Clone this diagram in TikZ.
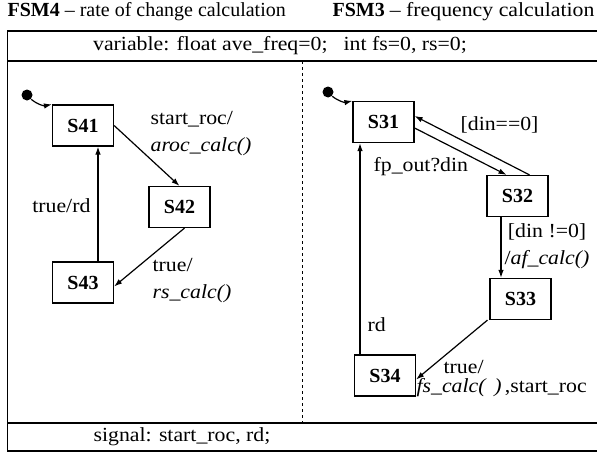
\documentclass[tikz,border=0pt]{standalone}
\usepackage{fontspec}
\setmainfont{Liberation Serif}
\newfontfamily\lblfont[Ligatures=TeX, FakeStretch=1.09]{Liberation Serif}
\usetikzlibrary{arrows.meta}
\begin{document}
\begin{tikzpicture}[x=1pt, y=-1pt, line width=1.2pt, inner sep=1pt,
		font=\fontsize{20}{27}\selectfont\lblfont,
		state/.style={draw, minimum width=61pt, minimum height=41pt, inner sep=0pt, font=\fontsize{20}{27}\selectfont\rmfamily\bfseries},
		title/.style={anchor=west, font=\fontsize{20}{27}\selectfont\rmfamily},
		init/.style={circle, fill, inner sep=0pt, minimum size=11pt},
		>={Latex[length=8pt, width=5.5pt]}]
		\useasboundingbox(0, 0)rectangle(597, 452);
		\node[title](t4)at(6, 12){\textbf{FSM4} -- rate of change calculation};
		\node[title](t3)at(331, 12){\textbf{FSM3} \lblfont-- frequency calculation};
		\draw(7.5, 31)rectangle(610, 451);
		\draw(7.5, 61)--(610, 61);
		\draw(7.5, 423)--(610, 423);
		\draw[line width=1pt, dashed](302, 61)--(302, 423);
		\node(var)at(280, 46){variable: float ave\_freq=0;\hspace{0.8em}int fs=0, rs=0;};
		\node(sig)at(182, 437){signal: start\_roc, rd;};
		\node[state](S41)at(83, 125.5){S41};
		\node[state](S42)at(179.5, 207){S42};
		\node[state](S43)at(83, 282.5){S43};
		\node[init](i4)at(27, 95){};
		\draw[->](i4)to[bend right=25](S41.north west);
		\draw[->](S41.east)--(S42.north);
		\draw[->]([xshift=5pt]S42.south)--([yshift=-4pt]S43.east);
		\draw[->]([xshift=15pt]S43.north)--([xshift=15pt]S41.south);
		\node[anchor=west, align=left]at(149, 134){start\_roc/\\\textit{aroc\_calc()}};
		\node[anchor=east]at(92, 206){true/rd};
		\node[anchor=west, align=left]at(151, 281){true/\\\textit{rs\_calc()}};
		\node[state](S31)at(383.5, 122){S31};
		\node[state](S32)at(517.5, 196){S32};
		\node[state](S33)at(520.5, 299){S33};
		\node[state](S34)at(385, 375.5){S34};
		\node[init](i3)at(328, 92){};
		\draw[->](i3)to[bend right=25](S31.north west);
		\draw[->]([yshift=-6pt]S31.east)--([xshift=-11pt]S32.north);
		\draw[->]([xshift=12pt]S32.north)--([yshift=6pt]S31.east);
		\draw[->]([xshift=-16.5pt]S32.south)--([xshift=-19.5pt]S33.north);
		\draw[->]([xshift=-33pt]S33.south)--([yshift=-4pt]S34.east);
		\draw[->]([xshift=-25pt]S34.north)--([xshift=-23.5pt]S31.south);
		\node[anchor=west]at(459, 125){[din==0]};
		\node[anchor=west]at(372, 167){fp\_out?din};
		\node[anchor=west, align=left]at(503, 246){\,[din !=0]\\/\textit{af\_calc()}};
		\node[anchor=west]at(366, 325){rd};
		\node[anchor=west, inner sep=0pt]at(443, 367){true/};
		\node[anchor=west, inner sep=0pt]at(416, 388){\textit{fs\_calc(\ \,)}\,,start\_roc};
	\end{tikzpicture}
\end{document}
